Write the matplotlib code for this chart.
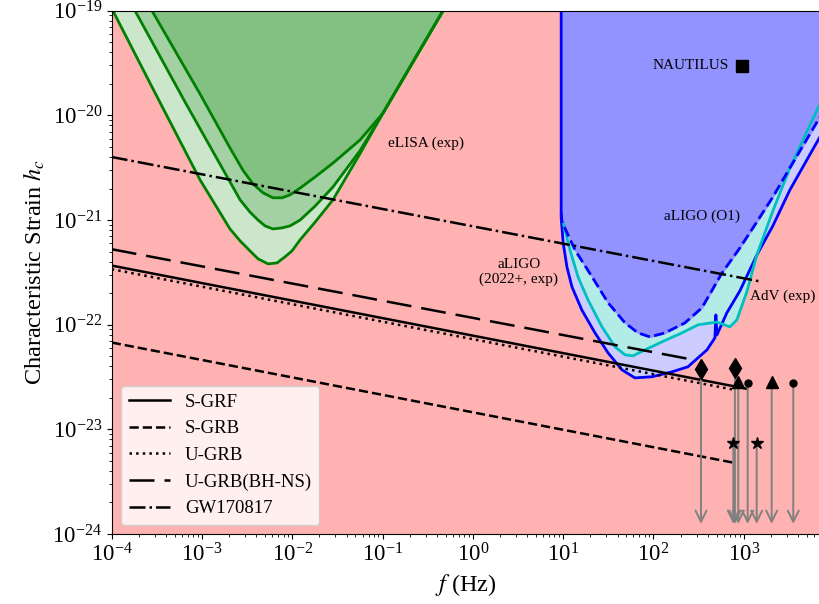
import numpy as np
import matplotlib.pyplot as plt
from matplotlib.ticker import LogLocator, NullFormatter

plt.rcParams['font.family'] = ['Liberation Serif', 'DejaVu Serif']
plt.rcParams['mathtext.fontset'] = 'stix'

# eLISA (exp): three sensitivity configurations
elisa_f_low = [1.03e-4, 2.65e-4, 9.51e-4, 2.04e-3, 2.64e-3, 3.40e-3, 4.17e-3, 5.38e-3, 6.78e-3, 8.30e-3, 9.93e-3, 1.22e-2,
               1.79e-2, 2.82e-2, 5.62e-2, 0.101, 0.467]
elisa_h_low = [1.0e-19, 2.04e-20, 2.42e-21, 8.22e-22, 6.32e-22, 5.07e-22, 4.26e-22, 3.81e-22, 3.89e-22, 4.45e-22, 5.07e-22, 6.46e-22,
               9.55e-22, 1.56e-21, 4.3e-21, 1.05e-20, 1.0e-19]
elisa_f_mid = [1.81e-4, 6.49e-4, 2.64e-3, 3.40e-3, 4.17e-3, 4.99e-3, 6.11e-3, 7.69e-3, 9.44e-3, 1.22e-2, 1.79e-2, 2.82e-2,
               5.62e-2, 0.101, 0.467]
elisa_h_mid = [1.0e-19, 1.34e-20, 1.56e-21, 1.19e-21, 1.0e-21, 8.79e-22, 8.22e-22, 8.41e-22, 8.79e-22, 1.0e-21, 1.36e-21, 2.07e-21,
               4.6e-21, 1.05e-20, 1.0e-19]
elisa_f_high = [2.79e-4, 9.51e-4, 2.04e-3, 2.84e-3, 3.67e-3, 4.74e-3, 6.11e-3, 7.69e-3, 9.44e-3, 1.22e-2, 1.79e-2, 2.82e-2,
                5.62e-2, 0.101, 0.467]
elisa_h_high = [1.0e-19, 1.60e-20, 4.89e-21, 2.99e-21, 2.21e-21, 1.82e-21, 1.63e-21, 1.63e-21, 1.74e-21, 2.02e-21, 2.58e-21, 3.50e-21,
                5.82e-21, 1.05e-20, 1.0e-19]

# aLIGO design (2022+), aLIGO O1, AdV
aligo_f = [9.5, 9.5, 10.0, 11.0, 12.5, 16.1, 22.5, 31.4, 44.8, 62.4, 96.2, 160, 241, 311, 391, 479, 491, 504, 650, 905, 1396, 2099, 3243, 7100]
aligo_h = [1e-18, 1.05e-21, 6.04e-22, 3.56e-22, 2.30e-22, 1.38e-22, 8.35e-23, 5.38e-23, 3.70e-23, 3.10e-23, 3.18e-23, 3.54e-23, 3.96e-23,
           4.82e-23, 5.74e-23, 7.48e-23, 1.24e-22, 7.98e-23, 1.30e-22, 2.10e-22, 4.64e-22, 8.79e-22, 1.94e-21, 6.4e-21]
o1_f = [9.5, 9.7, 13.5, 20.9, 31.4, 48.4, 67.4, 91.4, 134, 223, 344, 574, 905, 1396, 2099, 3243, 7100]
o1_h = [1.17e-21, 9.6e-22, 5.18e-22, 2.86e-22, 1.62e-22, 1.04e-22, 8.35e-23, 7.64e-23, 8.35e-23, 1.04e-22, 1.45e-22, 3.12e-22,
        5.41e-22, 9.6e-22, 1.66e-21, 3.15e-21, 9.9e-21]
adv_f = [10.0, 11.9, 14.6, 18.8, 26.9, 37.5, 48.4, 59.3, 80.5, 124, 207, 311, 504, 701, 838, 1081, 1396, 2099, 3243, 7100]
adv_h = [9.4e-22, 5.18e-22, 2.86e-22, 1.73e-22, 9.53e-23, 6.14e-23, 5.15e-23, 5.04e-23, 5.74e-23, 6.85e-23, 8.35e-23, 9.96e-23,
         1.06e-22, 9.53e-23, 1.11e-22, 2.06e-22, 4.64e-22, 1.22e-21, 3.15e-21, 1.33e-20]

# model predictions (straight lines in log-log)
sgrf_f, sgrf_h = [1e-4, 1084], [3.67e-22, 2.44e-23]
sgrb_f, sgrb_h = [1e-4, 753], [6.75e-23, 4.82e-24]
ugrb_f, ugrb_h = [1e-4, 795], [3.39e-22, 2.38e-23]
bhns_f, bhns_h = [1e-4, 290], [5.26e-22, 4.58e-23]
gw_f, gw_h = [1e-4, 1585], [4.0e-21, 2.57e-22]

# upper limits
diamond_f, diamond_h = [336, 798], [3.75e-23, 3.84e-23]
triangle_f, triangle_h = [869, 2036], [2.86e-23, 2.86e-23]
circle_f, circle_h = [1104, 3533], [2.76e-23, 2.76e-23]
star_f, star_h = [766, 1390], [7.38e-24, 7.38e-24]
arrow_tip = 1.25e-24

nautilus_f, nautilus_h = [961], [2.98e-20]

fig = plt.figure(figsize=(8.19, 6.04), dpi=100)
ax = fig.add_axes([0.1364, 0.1159, 0.8656, 0.8664])
ax.set_facecolor('#FFB2B2')
top = 1e-18

ax.fill_between(elisa_f_low, elisa_h_low, top, color='#CCE6CC', zorder=1)
ax.fill_between(elisa_f_mid, elisa_h_mid, top, color='#A3D1A3', zorder=1)
ax.fill_between(elisa_f_high, elisa_h_high, top, color='#82C182', zorder=1)
for f, h in [(elisa_f_low, elisa_h_low), (elisa_f_mid, elisa_h_mid), (elisa_f_high, elisa_h_high)]:
    ax.plot(f, h, color='green', lw=2, zorder=2)

ax.fill_between(aligo_f, aligo_h, top, color='#CCCCFF', zorder=1)
ax.fill_between(adv_f, adv_h, top, color='#B3EBE6', zorder=1)
ax.fill_between(o1_f, o1_h, top, color='#9393FF', zorder=1)
ax.plot(aligo_f, aligo_h, color='blue', lw=2, zorder=2)
ax.plot(adv_f, adv_h, color='c', lw=2, zorder=2)
ax.plot(o1_f, o1_h, color='blue', lw=2, ls='--', zorder=2)

ax.plot(sgrf_f, sgrf_h, color='k', lw=1.8, label='S-GRF', zorder=3)
ax.plot(sgrb_f, sgrb_h, color='k', lw=1.8, ls='--', label='S-GRB', zorder=3)
ax.plot(ugrb_f, ugrb_h, color='k', lw=1.8, ls=':', label='U-GRB', zorder=3)
ax.plot(bhns_f, bhns_h, color='k', lw=1.8, dashes=(10, 4), label='U-GRB(BH-NS)', zorder=3)
ax.plot(gw_f, gw_h, color='k', lw=1.8, ls='-.', label='GW170817', zorder=3)

for f, h in zip(diamond_f + star_f + triangle_f + circle_f, diamond_h + star_h + triangle_h + circle_h):
    ax.annotate('', xy=(f, arrow_tip), xytext=(f, h),
                arrowprops=dict(arrowstyle='->', color='gray', lw=1.4, mutation_scale=20, shrinkA=0, shrinkB=0),
                zorder=4)
ax.plot(diamond_f, diamond_h, 'kd', ms=10, zorder=5)
ax.plot(triangle_f, triangle_h, 'k^', ms=8, zorder=5)
ax.plot(circle_f, circle_h, 'ko', ms=5, zorder=5)
ax.plot(star_f, star_h, 'k*', ms=9, zorder=5)
ax.plot(nautilus_f, nautilus_h, 'ks', ms=8, zorder=5)

ax.text(690, 3.0e-20, 'NAUTILUS', fontsize=11, ha='right', va='center')
ax.text(0.3, 5.4e-21, 'eLISA (exp)', fontsize=11, ha='center', va='center')
ax.text(3.24, 3.2e-22, 'aLIGO\n(2022+, exp)', fontsize=11, ha='center', va='center', linespacing=1.1)
ax.text(349, 1.09e-21, 'aLIGO (O1)', fontsize=11, ha='center', va='center')
ax.text(1170, 1.86e-22, 'AdV (exp)', fontsize=11, ha='left', va='center')

ax.set_xscale('log')
ax.set_yscale('log')
ax.set_xlim(1e-4, 7.1e3)
ax.set_ylim(1e-24, 1e-19)
ax.xaxis.set_major_locator(LogLocator(base=10, numticks=20))
ax.xaxis.set_minor_locator(LogLocator(base=10, subs=np.arange(2, 10), numticks=200))
ax.xaxis.set_minor_formatter(NullFormatter())
ax.yaxis.set_minor_locator(LogLocator(base=10, subs=np.arange(2, 10), numticks=200))
ax.yaxis.set_minor_formatter(NullFormatter())
ax.tick_params(labelsize=16.5)
ax.set_xlabel('$f$ (Hz)', fontsize=17.5)
ax.set_ylabel('Characteristic Strain $h_c$', fontsize=17.5)
ax.legend(loc='lower left', fontsize=13.5, handlelength=2.2)

plt.savefig('out.png', dpi=100)
